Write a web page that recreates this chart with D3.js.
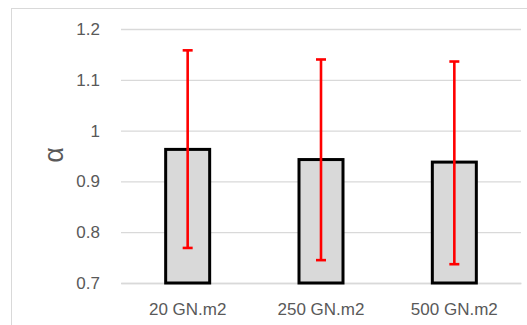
<!DOCTYPE html>
<html><head><meta charset="utf-8">
<script src="https://cdn.jsdelivr.net/npm/d3@7"></script>
<style>body{margin:0;background:#fff}svg{display:block}</style>
</head><body>
<script>
const categories = ["20 GN.m2", "250 GN.m2", "500 GN.m2"];
const values = [0.963, 0.943, 0.938];
const errUpper = [1.158, 1.140, 1.136];
const errLower = [0.769, 0.745, 0.737];
const yTicks = [0.7, 0.8, 0.9, 1, 1.1, 1.2];

(function(){
const W = 527, H = 325;
const svg = d3.select("body").append("svg").attr("width", W).attr("height", H);
svg.append("rect").attr("x", 11.5).attr("y", 8.5).attr("width", 600).attr("height", 400)
  .attr("fill", "#fff").attr("stroke", "#d9d9d9").attr("stroke-width", 1);

const pL = 121, pR = 521, pT = 29, pB = 283;
const x = d3.scaleBand().domain(categories).range([pL, pR]).paddingInner(0.67).paddingOuter(0.335);
const y = d3.scaleLinear().domain([0.7, 1.2]).range([pB, pT]);

const font = "'Liberation Sans', Arial, sans-serif";
const yAxis = d3.axisLeft(y).tickValues(yTicks).tickSize(-(pR - pL)).tickPadding(21)
  .tickFormat(d => d3.format("")(d));
const gy = svg.append("g").attr("transform", `translate(${pL},0)`).call(yAxis);
gy.select(".domain").remove();
gy.selectAll(".tick line").attr("stroke", "#d9d9d9").attr("stroke-width", 1.3);
gy.selectAll(".tick text").attr("fill", "#595959").style("font-family", font).style("font-size", "17px");

const xAxis = d3.axisBottom(x).tickSize(0).tickPadding(20);
const gx = svg.append("g").attr("transform", `translate(0,${pB})`).call(xAxis);
gx.select(".domain").attr("stroke", "#d9d9d9").attr("stroke-width", 1.3);
gx.selectAll(".tick text").attr("fill", "#595959").style("font-family", font).style("font-size", "17px");

svg.selectAll("rect.bar").data(values).join("rect").attr("class", "bar")
  .attr("x", (d, i) => x(categories[i]))
  .attr("y", d => y(d))
  .attr("width", x.bandwidth())
  .attr("height", d => y(0.7) - y(d))
  .attr("fill", "#d9d9d9").attr("stroke", "#000").attr("stroke-width", 3);

const eg = svg.append("g").attr("stroke", "#ff0000").attr("stroke-width", 2.6);
categories.forEach((c, i) => {
  const cx = x(c) + x.bandwidth() / 2;
  eg.append("line").attr("x1", cx).attr("x2", cx).attr("y1", y(errUpper[i])).attr("y2", y(errLower[i]));
  eg.append("line").attr("x1", cx - 5).attr("x2", cx + 5).attr("y1", y(errUpper[i])).attr("y2", y(errUpper[i]));
  eg.append("line").attr("x1", cx - 5).attr("x2", cx + 5).attr("y1", y(errLower[i])).attr("y2", y(errLower[i]));
});

svg.append("text").attr("transform", "translate(63,155) rotate(-90)")
  .attr("text-anchor", "middle").attr("fill", "#595959")
  .style("font-family", font).style("font-size", "27px").text("α");
})();
</script>
</body></html>
